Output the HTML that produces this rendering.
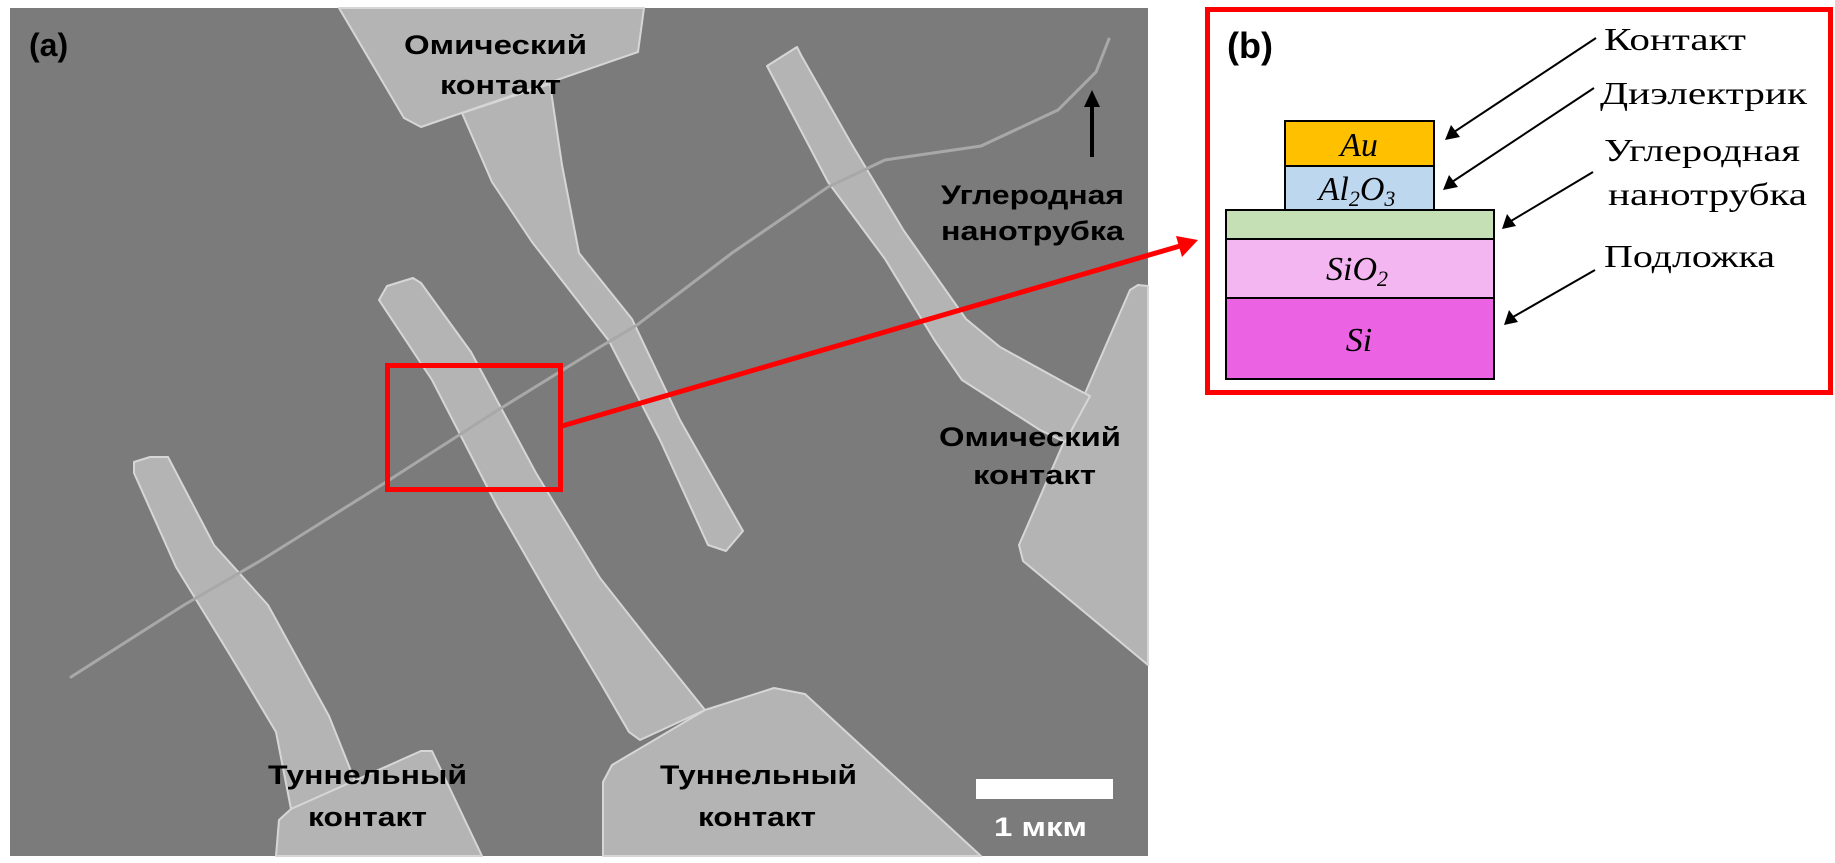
<!DOCTYPE html>
<html><head><meta charset="utf-8"><style>
html,body{margin:0;padding:0;background:#fff;}
svg{display:block;}
</style></head><body>
<svg width="1835" height="863" viewBox="0 0 1835 863" xmlns="http://www.w3.org/2000/svg">
<rect x="0" y="0" width="1835" height="863" fill="#fff"/>
<!-- SEM panel -->
<rect x="10" y="8" width="1138" height="848" fill="#7b7b7b"/>
<g fill="#b4b4b4" stroke="#d6d6d6" stroke-width="2" stroke-linejoin="round">
  <polygon points="339,8 404,118 421,127 638,52 644,8"/>
  <polygon points="462,113 492,182 532,242 609,341 660,440 708,545 726,551 743,531 680,420 632,319 579,253 562,165 550,84"/>
  <polygon points="1130,290 1138,285 1148,286 1148,665 1023,561 1019,545"/>
  <polygon points="767,66 797,47 801,55 851,143 904,231 966,319 1000,347 1069,385 1090,396 1065,442 1040,430 962,380 935,341 885,259 828,182"/>
  <polygon points="379,300 387,286 413,278 421,283 471,352 536,473 600,578 652,644 705,710 640,740 629,732 600,682 551,600 497,506 432,380"/>
  <polygon points="603,856 603,782 612,765 705,710 774,688 805,694 981,856"/>
  <polygon points="134,473 134,462 150,457 168,457 214,545 268,605 329,716 355,781 291,809 276,732 230,655 176,567"/>
  <polygon points="276,856 279,820 291,809 421,751 432,751 482,856"/>
</g>
<polyline points="71,677 184,605 260,561 383,484 498,410 600,347 637,325 732,253 828,187 885,160 981,146 1058,110 1096,72 1109,39" fill="none" stroke="#a8a8a8" stroke-width="3" stroke-linecap="round"/>
<line x1="1092" y1="157" x2="1092" y2="104" stroke="#000" stroke-width="4"/>
<polygon points="1092,90 1084,107 1100,107" fill="#000"/>
<rect x="976" y="779" width="137" height="20" fill="#fff"/>
<g font-family="Liberation Sans, DejaVu Sans, sans-serif" font-weight="bold" font-size="27">
  <text x="29" y="56" font-size="32" fill="#000">(a)</text>
  <text x="404" y="54" textLength="183" lengthAdjust="spacingAndGlyphs">Омический</text>
  <text x="440" y="94" textLength="121" lengthAdjust="spacingAndGlyphs">контакт</text>
  <text x="941" y="204" textLength="183" lengthAdjust="spacingAndGlyphs">Углеродная</text>
  <text x="941" y="240" textLength="183" lengthAdjust="spacingAndGlyphs">нанотрубка</text>
  <text x="939" y="446" textLength="182" lengthAdjust="spacingAndGlyphs">Омический</text>
  <text x="973" y="484" textLength="123" lengthAdjust="spacingAndGlyphs">контакт</text>
  <text x="268" y="784" textLength="199" lengthAdjust="spacingAndGlyphs">Туннельный</text>
  <text x="308" y="826" textLength="119" lengthAdjust="spacingAndGlyphs">контакт</text>
  <text x="660" y="784" textLength="197" lengthAdjust="spacingAndGlyphs">Туннельный</text>
  <text x="698" y="826" textLength="118" lengthAdjust="spacingAndGlyphs">контакт</text>
  <text x="994" y="836" fill="#fff" textLength="93" lengthAdjust="spacingAndGlyphs">1 мкм</text>
</g>
<rect x="387.5" y="365.5" width="173" height="124" fill="none" stroke="#ff0000" stroke-width="5"/>
<line x1="562" y1="426" x2="1180" y2="246" stroke="#ff0000" stroke-width="5"/>
<polygon points="1198,240 1176,236 1182,257" fill="#ff0000"/>
<rect x="1207.5" y="9.5" width="623" height="383" fill="#fff" stroke="#ff0000" stroke-width="5"/>
<text x="1227" y="58" font-family="Liberation Sans, sans-serif" font-weight="bold" font-size="36">(b)</text>
<g stroke="#000" stroke-width="2">
  <rect x="1285" y="121" width="149" height="45" fill="#ffc000"/>
  <rect x="1285" y="166" width="149" height="44" fill="#bdd7ee"/>
  <rect x="1226" y="210" width="268" height="29" fill="#c5e0b4"/>
  <rect x="1226" y="239" width="268" height="59" fill="#f4b6f0"/>
  <rect x="1226" y="298" width="268" height="81" fill="#eb63e2"/>
</g>
<g font-family="Liberation Serif, serif" font-style="italic" font-size="34" text-anchor="middle" fill="#000">
  <text x="1359" y="156">Au</text>
  <text x="1357" y="200">Al<tspan font-size="22" dy="6">2</tspan><tspan dy="-6">O</tspan><tspan font-size="22" dy="6">3</tspan></text>
  <text x="1357" y="280">SiO<tspan font-size="22" dy="6">2</tspan></text>
  <text x="1359" y="351">Si</text>
</g>
<g font-family="Liberation Serif, serif" font-size="32" fill="#000">
  <text x="1604" y="50" textLength="142" lengthAdjust="spacingAndGlyphs">Контакт</text>
  <text x="1600" y="104" textLength="207" lengthAdjust="spacingAndGlyphs">Диэлектрик</text>
  <text x="1604" y="161" textLength="196" lengthAdjust="spacingAndGlyphs">Углеродная</text>
  <text x="1608" y="205" textLength="199" lengthAdjust="spacingAndGlyphs">нанотрубка</text>
  <text x="1604" y="267" textLength="171" lengthAdjust="spacingAndGlyphs">Подложка</text>
</g>
<g stroke="#000" stroke-width="2">
  <line x1="1596" y1="38" x2="1454" y2="132"/>
  <line x1="1594" y1="88" x2="1452" y2="182"/>
  <line x1="1593" y1="172" x2="1511" y2="221"/>
  <line x1="1595" y1="270" x2="1513" y2="317"/>
</g>
<g fill="#000">
  <polygon points="1445,140 1451,125 1460,137"/>
  <polygon points="1443,190 1449,175 1458,187"/>
  <polygon points="1502,229 1507,214 1516,226"/>
  <polygon points="1504,325 1509,310 1518,322"/>
</g>
</svg>
</body></html>
